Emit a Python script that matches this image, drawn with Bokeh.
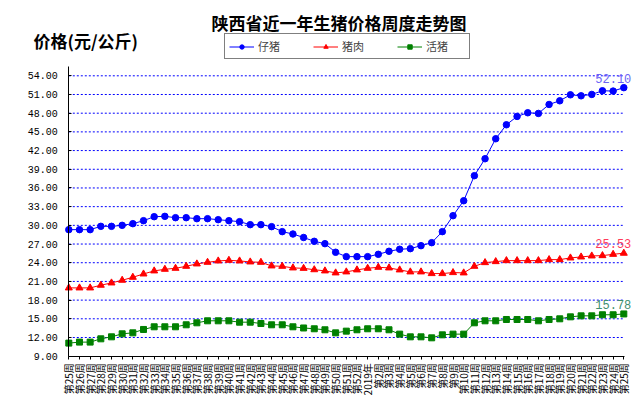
import math
from bokeh.plotting import figure
from bokeh.models import Range1d, FixedTicker, Legend, LegendItem, Label
from bokeh.embed import file_html
from bokeh.resources import INLINE

week_labels = [
    "第25周", "第26周", "第27周", "第28周", "第29周", "第30周", "第31周", "第32周",
    "第33周", "第34周", "第35周", "第36周", "第37周", "第38周", "第39周", "第40周",
    "第41周", "第42周", "第43周", "第44周", "第45周", "第46周", "第47周", "第48周",
    "第49周", "第50周", "第51周", "第52周", "2019年", "第2周", "第3周", "第4周",
    "第5周", "第6周", "第7周", "第8周", "第9周", "第10周", "第11周", "第12周",
    "第13周", "第14周", "第15周", "第16周", "第17周", "第18周", "第19周", "第20周",
    "第21周", "第22周", "第23周", "第24周", "第25周",
]

piglet = [
    29.31, 29.31, 29.31, 29.84, 29.84, 30.00, 30.27, 30.75, 31.39, 31.44,
    31.23, 31.23, 31.07, 31.07, 30.91, 30.75, 30.59, 30.11, 30.11, 29.79,
    28.99, 28.61, 28.05, 27.44, 27.06, 25.68, 24.98, 24.98, 24.98, 25.35,
    25.84, 26.16, 26.26, 26.74, 27.22, 28.99, 31.55, 33.95, 37.97, 40.69,
    43.90, 46.14, 47.48, 48.07, 47.96, 49.40, 49.99, 50.95, 50.79, 51.01,
    51.60, 51.55, 52.10,
]

pork = [
    19.96, 19.96, 19.96, 20.39, 20.76, 21.19, 21.67, 22.20, 22.69, 22.95,
    23.11, 23.43, 23.81, 24.07, 24.29, 24.39, 24.29, 24.13, 24.07, 23.49,
    23.43, 23.17, 23.10, 22.88, 22.69, 22.37, 22.53, 22.85, 23.11, 23.27,
    23.17, 22.85, 22.53, 22.53, 22.26, 22.26, 22.42, 22.37, 23.43, 24.02,
    24.18, 24.34, 24.34, 24.34, 24.34, 24.50, 24.50, 24.77, 24.93, 25.09,
    25.14, 25.35, 25.53,
]

live_hog = [
    11.10, 11.26, 11.26, 11.79, 12.11, 12.59, 12.75, 13.29, 13.72, 13.72,
    13.72, 14.04, 14.36, 14.68, 14.68, 14.68, 14.46, 14.46, 14.25, 14.04,
    14.04, 13.72, 13.53, 13.40, 13.24, 12.75, 13.02, 13.24, 13.40, 13.40,
    13.24, 12.54, 12.11, 12.11, 11.95, 12.43, 12.54, 12.54, 14.36, 14.68,
    14.68, 14.89, 14.89, 14.89, 14.68, 14.89, 15.00, 15.32, 15.48, 15.48,
    15.65, 15.65, 15.78,
]

series_names = ["仔猪", "猪肉", "活猪"]
title_text = "陕西省近一年生猪价格周度走势图"
y_title_text = "价格(元/公斤)"
y_ticks = [9, 12, 15, 18, 21, 24, 27, 30, 33, 36, 39, 42, 45, 48, 51, 54]
y_top = 55.5

xs = list(range(len(week_labels)))

CJK = "Noto Sans CJK SC"
colors = ["#0000ff", "#ff0000", "#008000"]
markers = ["circle", "triangle", "square"]
sizes = [6.5, 7, 6]
data = [piglet, pork, live_hog]
label_colors = ["#6b63f5", "#ff3b5c", "#3f8f6f"]

# The frame covers the whole figure; both axes are drawn at fixed data
# locations inside it, so that no text is clipped at the frame's edge.
p = figure(
    width=636, height=400,
    output_backend="svg", toolbar_location=None,
    x_range=Range1d(-6.399, 53.19), y_range=Range1d(1.89, 66.085),
    min_border_left=0, min_border_right=0, min_border_top=0, min_border_bottom=0,
)
p.outline_line_color = None
p.xgrid.visible = False
p.ygrid.visible = False

# horizontal dotted grid lines between the first and last week
grid_vals = y_ticks[1:]
p.segment(x0=[xs[0]] * len(grid_vals), x1=[xs[-1] - 0.1] * len(grid_vals),
          y0=grid_vals, y1=grid_vals,
          line_color="#0000ff", line_dash="2 2", line_width=1)

# y axis drawn at the first category
p.yaxis.fixed_location = xs[0]
p.yaxis.bounds = (y_ticks[0], y_top)
p.yaxis.ticker = FixedTicker(ticks=y_ticks)
p.yaxis.major_label_overrides = {t: f"{t:.2f}" for t in y_ticks}
p.yaxis.major_label_text_font = "Liberation Mono"
p.yaxis.major_label_text_font_size = "10px"
p.yaxis.major_label_text_color = "black"
p.yaxis.axis_line_color = "black"
p.yaxis.major_tick_in = 3
p.yaxis.major_tick_out = 0
p.yaxis.major_tick_line_color = "black"
p.yaxis.minor_tick_line_color = None
p.yaxis.major_label_standoff = 11

# x axis drawn at the lowest y tick
p.xaxis.fixed_location = y_ticks[0]
p.xaxis.bounds = (xs[0], xs[-1] + 0.06)
p.xaxis.ticker = FixedTicker(ticks=xs)
p.xaxis.major_label_overrides = {i: lab for i, lab in zip(xs, week_labels)}
p.xaxis.major_label_orientation = math.pi / 2
p.xaxis.major_label_text_font = CJK
p.xaxis.major_label_text_font_size = "10px"
p.xaxis.major_label_text_color = "black"
p.xaxis.axis_line_color = "black"
p.xaxis.major_tick_in = 0
p.xaxis.major_tick_out = 3
p.xaxis.major_tick_line_color = "black"
p.xaxis.minor_tick_line_color = None
p.xaxis.major_label_standoff = 4

items = []
for name, vals, c, m, s in zip(series_names, data, colors, markers, sizes):
    lr = p.line(xs, vals, line_color=c, line_width=1)
    sr = p.scatter(xs, vals, marker=m, size=s, fill_color=c, line_color=c)
    items.append(LegendItem(label=name, renderers=[lr, sr]))

legend = Legend(
    items=items, orientation="horizontal", location=(224, 341),
    padding=4, margin=0, spacing=16,
    glyph_width=25, glyph_height=11, label_height=11, label_width=39,
    label_standoff=4,
    label_text_font=CJK, label_text_font_size="11px",
    border_line_color="black", border_line_width=1,
    background_fill_color="white", background_fill_alpha=1,
)
p.add_layout(legend, "center")

for vals, lc in zip(data, label_colors):
    p.add_layout(Label(
        x=xs[-1], y=vals[-1], text=f"{vals[-1]:.2f}",
        x_offset=-10.5, y_offset=5,
        text_align="center", text_baseline="bottom",
        text_font="Liberation Mono", text_font_size="12px", text_color=lc,
    ))

p.add_layout(Label(
    x=338.5, y=378.3, x_units="screen", y_units="screen", text=title_text,
    text_align="center", text_baseline="middle",
    text_font=CJK, text_font_size="17px", text_font_style="bold", text_color="black",
))
p.add_layout(Label(
    x=33, y=360.5, x_units="screen", y_units="screen", text=y_title_text,
    text_align="left", text_baseline="middle",
    text_font=CJK, text_font_size="17px", text_font_style="bold", text_color="black",
))

open("out.html", "w").write(file_html(p, INLINE))
